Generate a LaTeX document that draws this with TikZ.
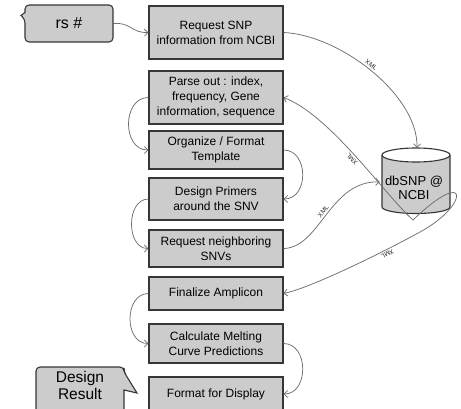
\documentclass[tikz,border=0pt]{standalone}
\usepackage{fontspec}
\setmainfont{Liberation Sans}
\usetikzlibrary{arrows.meta}
\definecolor{boxfill}{HTML}{CCCCCC}
\definecolor{boxline}{HTML}{363636}
\definecolor{connc}{HTML}{6E6E6E}
\begin{document}
\begin{tikzpicture}[x=1pt,y=1pt,
  stepbox/.style={draw=boxline, line width=1.1pt, fill=boxfill, minimum width=134pt,
    align=center, font=\fontsize{12}{14.8}\selectfont, inner sep=0pt},
  conn/.style={draw=connc, line width=0.75pt, -{Straight Barb[length=3.5pt,width=7pt]}},
  xml/.style={font=\fontsize{6.5}{7}\selectfont, text=black!85, inner sep=1.8pt},
  calloutbox/.style={fill=boxfill, draw=boxline, line width=1.1pt},
  plaintext/.style={inner sep=0pt, align=center}]
\useasboundingbox (0,0) rectangle (461,-409);
\clip (0,0) rectangle (461,-409);

% callouts
\path[calloutbox] (69,-5) [rounded corners=4pt] -- (113,-5) -- (113,-42) -- (25,-42) -- (25,-19)
  [sharp corners] -- (21,-15.5) -- (25,-12.5) [rounded corners=4pt] -- (25,-5) -- cycle;
\node[plaintext, minimum width=88pt, minimum height=37pt, font=\fontsize{16}{18}\selectfont] (rs) at (69,-23.5) {rs \#};

\path[calloutbox] (80,-367) [rounded corners=4pt] -- (124,-367) -- (124,-372) [sharp corners]
  -- (137,-393) -- (124,-390) -- (124,-415) -- (36,-415) [rounded corners=4pt] -- (36,-367) -- cycle;
\node[plaintext, font=\fontsize{15.5}{17}\selectfont] (dr) at (80,-385.5) {Design\\Result};

% process boxes
\node[stepbox, minimum height=53pt] (req) at (216,-32.5) {Request SNP\\information from NCBI};
\node[stepbox, minimum height=53pt] (parse) at (216,-97.5) {Parse out : index,\\frequency, Gene\\information, sequence};
\node[stepbox, minimum height=38pt] (org) at (216,-150) {Organize / Format\\Template};
\node[stepbox, minimum height=42pt] (design) at (216,-199) {Design Primers\\around the SNV};
\node[stepbox, minimum height=37pt] (neigh) at (216,-248.5) {Request neighboring\\SNVs};
\node[stepbox, minimum height=33pt] (final) at (216,-293.5) {Finalize Amplicon};
\node[stepbox, minimum height=39pt] (calc) at (216,-343.5) {Calculate Melting\\Curve Predictions};
\node[stepbox, minimum height=34pt] (fmt) at (216,-394) {Format for Display};

% database cylinder
\fill[boxfill] (382,-155) -- (382,-207) arc[start angle=180,end angle=360,x radius=34,y radius=6.5]
  -- (450,-155) arc[start angle=0,end angle=180,x radius=34,y radius=7] -- cycle;
\draw[boxline, line width=1.1pt] (382,-155) -- (382,-207) arc[start angle=180,end angle=360,x radius=34,y radius=6.5] -- (450,-155);
\filldraw[fill=white, draw=boxline, line width=1.1pt] (416,-155) ellipse[x radius=34, y radius=7];
\node[plaintext, minimum width=68pt, minimum height=80pt, font=\fontsize{13}{13.5}\selectfont] (db) at (414,-188) {dbSNP @\\NCBI};
\coordinate (L) at (413,-220);

% connectors
\draw[conn] (rs.east) .. controls (131,-22) and (131,-33) .. (req.west);
\draw[conn] (req.east) .. controls (340,-35) and (418,-95) .. ([xshift=3pt]db.north)
  node[xml, pos=0.48, sloped, above] {XML};
\draw[conn] (L) .. controls (385,-195) and (330,-115) .. (parse.east)
  node[xml, pos=0.5, sloped, allow upside down, above] {XML};
\draw[conn] (L) .. controls (470,-165) and (470,-205) .. (420,-232)
  .. controls (380,-254) and (310,-288) .. (final.east)
  node[xml, pos=0.25, sloped, allow upside down, above] {XML};
\draw[conn] (neigh.east) .. controls (320,-248) and (330,-180) .. ([yshift=6pt]db.west)
  node[xml, pos=0.5, sloped, above] {XML};

\draw[conn] (parse.west) .. controls (122,-97.5) and (122,-150) .. (org.west);
\draw[conn] (org.east) .. controls (309,-150) and (309,-199) .. (design.east);
\draw[conn] (design.west) .. controls (126,-199) and (126,-248.5) .. (neigh.west);
\draw[conn] (final.west) .. controls (124,-293.5) and (124,-343.5) .. (calc.west);
\draw[conn] (calc.east) .. controls (309,-343.5) and (309,-394) .. (fmt.east);
\end{tikzpicture}
\end{document}
